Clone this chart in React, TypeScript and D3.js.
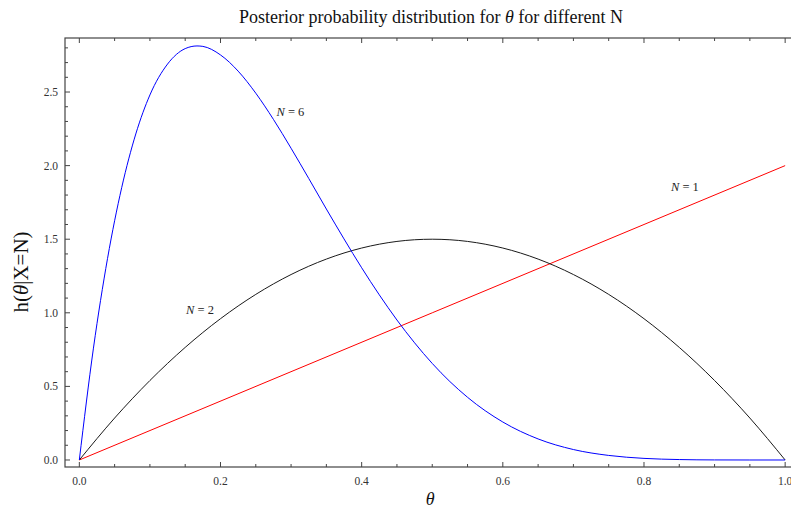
import React, { useRef, useEffect } from 'react';
import * as d3 from 'd3';

// values
const thetaN6 = [0, 0.02, 0.04, 0.06, 0.08, 0.1, 0.125, 0.15, 0.1667, 0.175, 0.2, 0.225, 0.25, 0.275, 0.3, 0.325, 0.35, 0.375, 0.4, 0.425, 0.45, 0.475, 0.5, 0.55, 0.6, 0.65, 0.7, 0.75, 0.8, 0.85, 0.9, 0.95, 1.0];
const hN6 = [0, 0.76, 1.37, 1.85, 2.215, 2.48, 2.69, 2.795, 2.813, 2.81, 2.752, 2.642, 2.492, 2.314, 2.118, 1.913, 1.705, 1.502, 1.306, 1.122, 0.951, 0.796, 0.656, 0.426, 0.258, 0.143, 0.071, 0.031, 0.011, 0.003, 0.0004, 0, 0];

const thetaN2 = [0, 0.05, 0.1, 0.15, 0.2, 0.25, 0.3, 0.35, 0.4, 0.45, 0.5, 0.55, 0.6, 0.65, 0.7, 0.75, 0.8, 0.85, 0.9, 0.95, 1.0];
const hN2 = [0, 0.285, 0.54, 0.765, 0.96, 1.125, 1.26, 1.365, 1.44, 1.485, 1.5, 1.485, 1.44, 1.365, 1.26, 1.125, 0.96, 0.765, 0.54, 0.285, 0];

const thetaN1 = [0, 0.5, 1.0];
const hN1 = [0, 1.0, 2.0];

const xTicks = [0, 0.2, 0.4, 0.6, 0.8, 1.0];
const yTicks = [0, 0.5, 1.0, 1.5, 2.0, 2.5];

const series = [
  { name: 'N = 1', xs: thetaN1, ys: hN1, color: '#ff0000', labelAt: [0.858, 1.83] },
  { name: 'N = 2', xs: thetaN2, ys: hN2, color: '#1a1a1a', labelAt: [0.171, 0.99] },
  { name: 'N = 6', xs: thetaN6, ys: hN6, color: '#0000ff', labelAt: [0.299, 2.34] },
];

export default function App() {
  const svgRef = useRef<SVGSVGElement>(null);

  useEffect(() => {
    const svg = d3.select(svgRef.current);
    svg.selectAll('*').remove();

    const width = 791, height = 512;
    const left = 65, top = 38, bottom = 467, right = 798;

    const x = d3.scaleLinear().domain([-0.0203, 1.0182]).range([left, right]);
    const y = d3.scaleLinear().domain([-0.0476, 2.867]).range([bottom, top]);

    const font = '"Liberation Serif", "Times New Roman", serif';

    // frame
    svg.append('rect')
      .attr('x', left).attr('y', top)
      .attr('width', right - left).attr('height', bottom - top)
      .attr('fill', 'none').attr('stroke', '#444').attr('stroke-width', 1.2);

    // ticks pointing inward
    const xMinor = d3.range(0, 1.0001, 0.05);
    xMinor.forEach(v => {
      const major = xTicks.some(t => Math.abs(t - v) < 1e-6);
      const len = major ? 5 : 3;
      svg.append('line').attr('x1', x(v)).attr('x2', x(v)).attr('y1', bottom).attr('y2', bottom - len).attr('stroke', '#444');
      svg.append('line').attr('x1', x(v)).attr('x2', x(v)).attr('y1', top).attr('y2', top + len).attr('stroke', '#444');
    });
    const yMinor = d3.range(0, 2.8001, 0.1);
    yMinor.forEach(v => {
      const major = yTicks.some(t => Math.abs(t - v) < 1e-6);
      const len = major ? 5 : 3;
      svg.append('line').attr('x1', left).attr('x2', left + len).attr('y1', y(v)).attr('y2', y(v)).attr('stroke', '#444');
    });

    svg.append('g').selectAll('text').data(xTicks).join('text')
      .attr('x', d => x(d)).attr('y', bottom + 18)
      .attr('text-anchor', 'middle')
      .attr('font-family', font).attr('font-size', 11.5).attr('fill', '#333')
      .text(d => d3.format('.1f')(d));

    svg.append('g').selectAll('text').data(yTicks).join('text')
      .attr('x', left - 7).attr('y', d => y(d) + 4)
      .attr('text-anchor', 'end')
      .attr('font-family', font).attr('font-size', 11.5).attr('fill', '#333')
      .text(d => d3.format('.1f')(d));

    // curves
    svg.append('clipPath').attr('id', 'clip').append('rect')
      .attr('x', left).attr('y', top).attr('width', right - left).attr('height', bottom - top);
    const plot = svg.append('g').attr('clip-path', 'url(#clip)');

    series.forEach(s => {
      const pts = s.xs.map((v, i) => [v, s.ys[i]] as [number, number]);
      const line = d3.line<[number, number]>()
        .x(d => x(d[0])).y(d => y(d[1]))
        .curve(d3.curveMonotoneX);
      plot.append('path').attr('d', line(pts))
        .attr('fill', 'none').attr('stroke', s.color).attr('stroke-width', 1);

      const lbl = svg.append('text')
        .attr('x', x(s.labelAt[0])).attr('y', y(s.labelAt[1]))
        .attr('text-anchor', 'middle')
        .attr('font-family', font).attr('font-size', 12.5).attr('fill', '#222');
      const parts = s.name.split(' ');
      lbl.append('tspan').attr('font-style', 'italic').text(parts[0]);
      lbl.append('tspan').text(' ' + parts.slice(1).join(' '));
    });

    // title
    const title = svg.append('text')
      .attr('x', 431).attr('y', 23)
      .attr('text-anchor', 'middle')
      .attr('font-family', font).attr('font-size', 18).attr('fill', '#111');
    title.append('tspan').text('Posterior probability distribution for ');
    title.append('tspan').attr('font-style', 'italic').text('θ');
    title.append('tspan').text(' for different N');

    // axis labels
    svg.append('text')
      .attr('x', x(0.497)).attr('y', 505)
      .attr('text-anchor', 'middle')
      .attr('font-family', font).attr('font-size', 18).attr('font-style', 'italic').attr('fill', '#111')
      .text('θ');

    const yl = svg.append('text')
      .attr('transform', `translate(28, 272) rotate(-90)`)
      .attr('text-anchor', 'middle')
      .attr('font-family', font).attr('font-size', 21).attr('fill', '#111');
    yl.append('tspan').text('h(');
    yl.append('tspan').attr('font-style', 'italic').text('θ');
    yl.append('tspan').text('|X=N)');

    svg.attr('width', width).attr('height', height);
  }, []);

  return (
    <svg ref={svgRef} width={791} height={512}
      style={{ position: 'absolute', left: 0, top: 0, background: '#fff' }} />
  );
}
